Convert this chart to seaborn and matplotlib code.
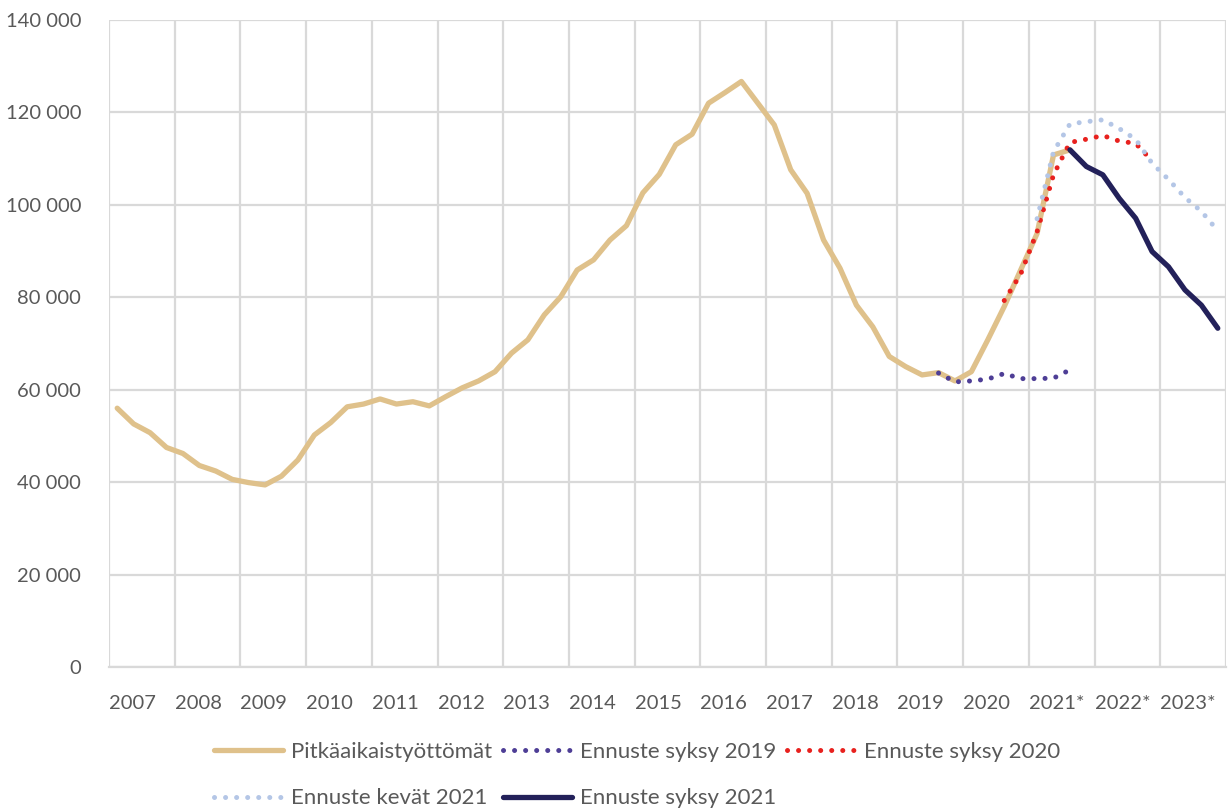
import matplotlib
matplotlib.use("Agg")
import matplotlib.pyplot as plt
import matplotlib.ticker as mticker
import seaborn as sns
import numpy as np
import pandas as pd

# ---------------- data ----------------
years = [str(y) for y in range(2007, 2021)] + ["2021*", "2022*", "2023*"]
quarters = [f"{y}Q{q}" for y in range(2007, 2024) for q in range(1, 5)]

# Pitkäaikaistyöttömät, 2007Q1 - 2021Q3
actual_start = "2007Q1"
actual = [56000, 52600, 50700, 47500,
          46200, 43600, 42400, 40600,
          39900, 39400, 41300, 44800,
          50200, 52900, 56300, 56900,
          58000, 56900, 57400, 56500,
          58500, 60400, 61900, 63900,
          67900, 70800, 76200, 80100,
          85900, 88100, 92400, 95500,
          102600, 106600, 113000, 115300,
          122000, 124300, 126700, 122000,
          117300, 107600, 102500, 92400,
          86300, 78300, 73600, 67200,
          65000, 63200, 63700, 61900,
          63900, 70800, 78000, 85900,
          93800, 110800, 111900]

# Ennuste syksy 2019, 2019Q3 - 2021Q3
f_s2019_start = "2019Q3"
f_s2019 = [63600, 61700, 61900, 62300, 63500, 62400, 62400, 62500, 64300]

# Ennuste syksy 2020, 2020Q3 - 2022Q4
f_s2020_start = "2020Q3"
f_s2020 = [79300, 85000, 94200, 106500, 113500, 114200, 115000, 113800, 113300, 109500]

# Ennuste kevät 2021, 2021Q1 - 2023Q4
f_k2021_start = "2021Q1"
f_k2021 = [97000, 111500, 117500, 118000, 118400, 116500, 114200, 109000,
           105500, 101600, 98600, 94400]

# Ennuste syksy 2021, 2021Q3 - 2023Q4
f_s2021_start = "2021Q3"
f_s2021 = [111900, 108300, 106500, 101400, 97100, 89900, 86600, 81600, 78300, 73300]

labels = ["Pitkäaikaistyöttömät", "Ennuste syksy 2019", "Ennuste syksy 2020",
          "Ennuste kevät 2021", "Ennuste syksy 2021"]
colors = ["#DFC18B", "#4E3E96", "#E8211E", "#B4C6E6", "#23215A"]

# ---------------- style ----------------
sns.set_theme(style="white")
plt.rcParams["font.family"] = ["Lato", "DejaVu Sans"]
TXT = "#595959"
GRID = "#D9D9D9"
FS = 14.5
LFS = 16

fig = plt.figure(figsize=(12.28, 8.09), dpi=100)
ax = fig.add_axes([109 / 1228, 1 - 667 / 809, (1226 - 109) / 1228, (667 - 20) / 809])


def frame(start, values, name):
    i0 = quarters.index(start)
    return pd.DataFrame({"x": np.arange(i0, i0 + len(values)), "y": values, "s": name})


series = [(actual_start, actual), (f_s2019_start, f_s2019), (f_s2020_start, f_s2020),
          (f_k2021_start, f_k2021), (f_s2021_start, f_s2021)]
dotted = (0, (0.01, 2.2))
styles = [dict(lw=3.8, linestyle="-", solid_capstyle="round", solid_joinstyle="round"),
          dict(lw=3.6, linestyle=dotted, dash_capstyle="round"),
          dict(lw=3.6, linestyle=dotted, dash_capstyle="round"),
          dict(lw=3.6, linestyle=dotted, dash_capstyle="round"),
          dict(lw=3.8, linestyle="-", solid_capstyle="round", solid_joinstyle="round")]

for (start, vals), name, col, st in zip(series, labels, colors, styles):
    df = frame(start, vals, name)
    sns.lineplot(data=df, x="x", y="y", color=col, label=name, ax=ax, **st)

# ---------------- axes ----------------
n = len(quarters)
ax.set_xlim(-0.5, n - 0.5)
ax.set_ylim(0, 140000)
year_edges = [-0.5 + 4 * k for k in range(len(years) + 1)]
ax.set_xticks(year_edges)
ax.set_xticklabels(years + [""], ha="left")
ax.set_yticks(np.arange(0, 140001, 20000))
ax.yaxis.set_major_formatter(mticker.FuncFormatter(lambda v, p: f"{int(v):,}".replace(",", " ")))
ax.grid(True, color=GRID, lw=1.6)
ax.set_axisbelow(True)
for s in ["top", "right", "left"]:
    ax.spines[s].set_visible(False)
ax.spines["bottom"].set_color(GRID)
ax.spines["bottom"].set_linewidth(1.6)
ax.tick_params(axis="both", length=0, labelsize=FS, labelcolor=TXT)
ax.tick_params(axis="x", pad=20)
ax.tick_params(axis="y", pad=20)
ax.set_xlabel("")
ax.set_ylabel("")

ax.legend_.remove()
handles, lbls = ax.get_legend_handles_labels()
order = [0, 3, 1, 4, 2]  # fill rows: matplotlib fills columns first
leg = fig.legend([handles[i] for i in order], [lbls[i] for i in order],
                 loc="center", bbox_to_anchor=(637 / 1228, 1 - 775 / 809),
                 ncol=3, frameon=False, fontsize=LFS, handlelength=3.1,
                 handletextpad=0.35, columnspacing=0.5, labelspacing=1.2)
for t in leg.get_texts():
    t.set_color(TXT)

fig.savefig("out.png", dpi=100)
